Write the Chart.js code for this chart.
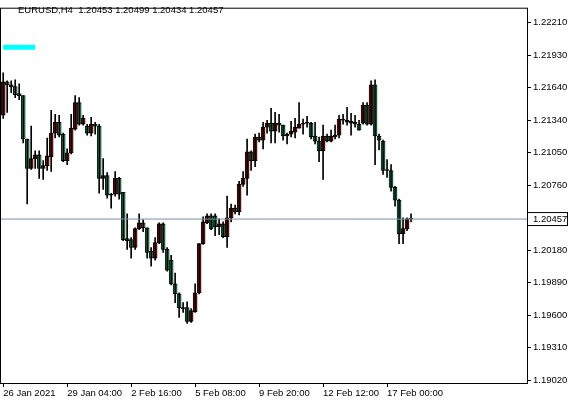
<!DOCTYPE html>
<html>
<head>
<meta charset="utf-8">
<script src="https://cdn.jsdelivr.net/npm/chart.js@4/dist/chart.umd.min.js"></script>
<style>
  html, body { margin: 0; padding: 0; background: #fff; }
  #wrap { width: 571px; height: 405px; }
</style>
</head>
<body>
<div id="wrap"><canvas id="myChart"></canvas></div>
<script>
// H4 candles
const opens = [1.21383,1.21682,1.21655,1.21638,1.21576,1.21558,1.21171,1.20908,1.20996,1.21031,1.20908,1.20934,1.21013,1.21224,1.21321,1.21215,1.20978,1.21048,1.21259,1.21497,1.21303,1.21286,1.21224,1.21303,1.21286,1.20820,1.20846,1.20670,1.20679,1.20820,1.20696,1.20283,1.20274,1.20203,1.20371,1.20423,1.20379,1.20168,1.20107,1.20247,1.20415,1.20186,1.20089,1.19878,1.19790,1.19667,1.19667,1.19543,1.19631,1.19799,1.20238,1.20423,1.20485,1.20485,1.20388,1.20415,1.20300,1.20467,1.20555,1.20520,1.20767,1.20820,1.21057,1.20978,1.21189,1.21162,1.21277,1.21312,1.21242,1.21312,1.21295,1.21198,1.21215,1.21233,1.21268,1.21303,1.21312,1.21312,1.21198,1.21153,1.21066,1.21198,1.21153,1.21189,1.21206,1.21348,1.21339,1.21330,1.21321,1.21303,1.21312,1.21471,1.21303,1.21655,1.21198,1.21153,1.20899,1.20890,1.20740,1.20626,1.20326,1.20371,1.20459];
const highs = [1.21761,1.21691,1.21691,1.21700,1.21664,1.21558,1.21171,1.21286,1.21066,1.21066,1.20978,1.21180,1.21427,1.21391,1.21383,1.21224,1.21083,1.21391,1.21559,1.21541,1.21383,1.21303,1.21365,1.21321,1.21303,1.20996,1.20872,1.20687,1.20881,1.20829,1.20696,1.20503,1.20291,1.20379,1.20503,1.20450,1.20379,1.20203,1.20291,1.20423,1.20423,1.20203,1.20133,1.19975,1.19799,1.19711,1.19719,1.19658,1.19878,1.20238,1.20476,1.20503,1.20503,1.20503,1.20459,1.20432,1.20661,1.20591,1.20582,1.20793,1.20881,1.21171,1.21066,1.21215,1.21224,1.21321,1.21338,1.21444,1.21409,1.21391,1.21295,1.21224,1.21330,1.21356,1.21497,1.21348,1.21374,1.21321,1.21321,1.21189,1.21295,1.21215,1.21250,1.21295,1.21383,1.21391,1.21453,1.21400,1.21383,1.21339,1.21497,1.21497,1.21691,1.21700,1.21215,1.21162,1.20987,1.20943,1.20749,1.20635,1.20467,1.20467,1.20503];
const lows = [1.21356,1.21409,1.21585,1.21541,1.21523,1.21136,1.20591,1.20899,1.20908,1.20820,1.20811,1.20890,1.20881,1.21180,1.21189,1.20969,1.20943,1.21039,1.21250,1.21295,1.21295,1.21206,1.21198,1.21215,1.20687,1.20722,1.20643,1.20555,1.20661,1.20635,1.20265,1.20186,1.20107,1.20186,1.20362,1.20344,1.20107,1.20036,1.20089,1.20238,1.20159,1.19992,1.19869,1.19711,1.19579,1.19623,1.19526,1.19535,1.19623,1.19790,1.20230,1.20415,1.20362,1.20309,1.20318,1.20291,1.20203,1.20432,1.20503,1.20494,1.20749,1.20670,1.20890,1.20925,1.21145,1.21083,1.21224,1.21136,1.21136,1.21233,1.21162,1.21127,1.21189,1.21180,1.21268,1.21215,1.21277,1.21171,1.21127,1.20969,1.20811,1.21145,1.21145,1.21171,1.21180,1.21303,1.21295,1.21206,1.21277,1.21250,1.21303,1.21295,1.21295,1.20943,1.21075,1.20855,1.20829,1.20705,1.20573,1.20238,1.20238,1.20353,1.20432];
const closes = [1.21682,1.21655,1.21638,1.21567,1.21558,1.21171,1.20908,1.20996,1.21031,1.20908,1.20934,1.21022,1.21224,1.21321,1.21206,1.20978,1.21048,1.21268,1.21497,1.21303,1.21356,1.21224,1.21303,1.21286,1.20820,1.20846,1.20670,1.20679,1.20820,1.20679,1.20274,1.20265,1.20203,1.20371,1.20423,1.20379,1.20159,1.20107,1.20247,1.20415,1.20186,1.20001,1.19878,1.19790,1.19667,1.19658,1.19543,1.19640,1.19799,1.20238,1.20432,1.20485,1.20371,1.20388,1.20415,1.20300,1.20467,1.20555,1.20520,1.20767,1.20820,1.21057,1.20978,1.21189,1.21162,1.21277,1.21312,1.21242,1.21312,1.21295,1.21198,1.21215,1.21242,1.21277,1.21303,1.21312,1.21321,1.21189,1.21153,1.21066,1.21198,1.21153,1.21198,1.21206,1.21348,1.21339,1.21321,1.21312,1.21303,1.21250,1.21471,1.21303,1.21655,1.21198,1.21162,1.20890,1.20890,1.20740,1.20626,1.20326,1.20371,1.20459,1.20457];

const timeTicks = [0, 16, 32, 48, 64, 80, 96];
const timeLabels = ["26 Jan 2021", "29 Jan 04:00", "2 Feb 16:00", "5 Feb 08:00", "9 Feb 20:00", "12 Feb 12:00", "17 Feb 00:00"];
const priceTicks = [1.22210, 1.21920, 1.21630, 1.21340, 1.21050, 1.20760, 1.20457, 1.20180, 1.19890, 1.19600, 1.19310, 1.19020];
const priceLabels = ["1.22210", "1.21930", "1.21640", "1.21340", "1.21050", "1.20760", "1.20457", "1.20180", "1.19890", "1.19600", "1.19310", "1.19020"];
const lastPrice = 1.20457;
const cyanLevel = 1.21991;
const title = "EURUSD,H4  1.20453 1.20499 1.20434 1.20457";

const bullColor = "#d21f1f";
const bearColor = "#3ddc91";
const font = { family: "Liberation Sans", size: 9.5 };

const wicks = lows.map((l, i) => ({ x: i, y: [l, highs[i]] }));
const bodies = opens.map((o, i) => ({ x: i, y: [o, closes[i]] }));
const bodyColors = opens.map((o, i) => (closes[i] >= o ? bullColor : bearColor));

const framePlugin = {
  id: "frame",
  afterDraw(chart) {
    const c = chart.ctx;
    const a = chart.chartArea;
    c.save();
    c.strokeStyle = "#000";
    c.lineWidth = 1;
    c.strokeRect(a.left + 0.5, a.top + 0.5, a.right - a.left, a.bottom - a.top);
    // price box on the right axis
    const y = chart.scales.y.getPixelForValue(lastPrice);
    c.fillStyle = "#fff";
    c.fillRect(a.right + 1, y - 6, 42, 12);
    c.strokeRect(a.right + 0.5, y - 6.5, 40, 13);
    c.fillStyle = "#000";
    c.font = "9.5px 'Liberation Sans'";
    c.textBaseline = "middle";
    c.fillText(priceLabels[6], a.right + 6, y);
    c.textBaseline = "top";
    c.fillText(title, 18, 6);
    c.restore();
  },
};

const ctx = document.getElementById("myChart");
new Chart(ctx, {
  data: {
    datasets: [
      {
        type: "line",
        data: [{ x: -0.8, y: lastPrice }, { x: 131, y: lastPrice }],
        borderColor: "#7890a6",
        borderWidth: 1,
        pointRadius: 0,
      },
      {
        type: "line",
        data: [{ x: 0, y: cyanLevel }, { x: 8, y: cyanLevel }],
        borderColor: "#00ffff",
        borderWidth: 5,
        pointRadius: 0,
      },
      {
        type: "bar",
        data: wicks,
        backgroundColor: "#000",
        barThickness: 1,
        grouped: false,
      },
      {
        type: "bar",
        data: bodies,
        backgroundColor: bodyColors,
        borderColor: "#000",
        borderWidth: 1,
        borderSkipped: false,
        barThickness: 4,
        minBarLength: 1,
        grouped: false,
      },
    ],
  },
  options: {
    responsive: true,
    maintainAspectRatio: false,
    animation: false,
    layout: { padding: { left: 0, top: 3, right: 0, bottom: 0 } },
    plugins: { legend: { display: false }, tooltip: { enabled: false } },
    scales: {
      x: {
        type: "linear",
        min: -0.8,
        max: 131,
        offset: false,
        grid: { display: true, drawOnChartArea: false, offset: false, color: "#000", tickLength: 4 },
        border: { display: false },
        afterBuildTicks: (s) => { s.ticks = timeTicks.map((v) => ({ value: v })); },
        afterFit: (s) => { s.height = 22; },
        ticks: {
          color: "#000",
          font: font,
          align: "start",
          maxRotation: 0,
          autoSkip: false,
          padding: 1,
          callback: (v, i) => timeLabels[i],
        },
      },
      y: {
        position: "right",
        min: 1.18994,
        max: 1.22343,
        grid: { display: true, drawOnChartArea: false, color: "#000", tickLength: 4 },
        border: { display: false },
        afterBuildTicks: (s) => { s.ticks = priceTicks.map((v) => ({ value: v })); },
        afterFit: (s) => { s.width = 44; },
        ticks: {
          color: "#000",
          font: font,
          autoSkip: false,
          padding: 2,
          callback: (v, i) => (i === 6 ? "" : priceLabels[i]),
        },
      },
    },
  },
  plugins: [framePlugin],
});
</script>
</body>
</html>
